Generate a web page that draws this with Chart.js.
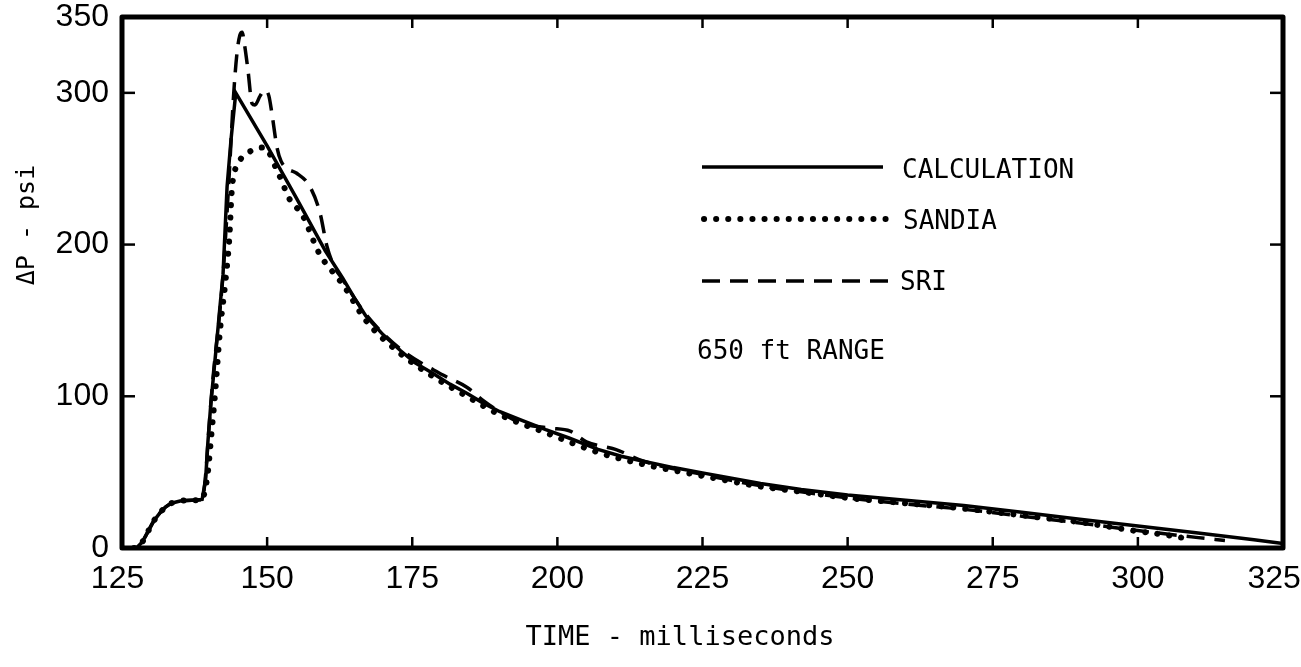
<!DOCTYPE html>
<html>
<head>
<meta charset="utf-8">
<script src="https://cdn.jsdelivr.net/npm/chart.js@4"></script>
<style>
html,body{margin:0;padding:0;background:#fff;}
#wrap{width:1301px;height:667px;position:relative;}
</style>
</head>
<body>
<div id="wrap"><canvas id="c" width="1301" height="667"></canvas></div>
<script>
// ---- data ----
const xTickValues = [125, 150, 175, 200, 225, 250, 275, 300, 325];
const yTickValues = [0, 100, 200, 300, 350];

const calcT = [125, 127.5, 128.5, 129.5, 130.5, 131.5, 132.5, 133.5, 135, 137, 138.8, 139.4, 139.8, 140.3, 140.8, 141.3, 141.9, 142.4, 143.1, 143.8, 144.6, 150, 155, 160, 163, 165, 167, 170, 173, 175.5, 178.6, 181.5, 184.4, 187, 190, 194, 198, 202, 207, 211, 215, 220, 225, 230, 235, 242, 250, 260, 270, 280, 290, 300, 310, 320, 325];
const calcP = [0, 0, 4, 11, 18, 23, 27, 29.5, 31, 31.5, 32, 45, 70, 95, 115, 135, 160, 180, 238, 270, 300, 265, 231, 196, 178, 165, 153, 140.5, 130, 122, 115, 108, 102, 96, 90, 84, 78, 72.5, 65, 60.5, 57, 53, 49.5, 46, 42.5, 38.5, 35, 31.5, 28, 23.5, 19, 14.5, 10, 5.5, 3];

const sandiaT = [125, 127.5, 128.5, 129.5, 130.5, 131.5, 132.5, 133.5, 135, 137, 138.8, 139.3, 139.8, 140.4, 141, 141.9, 142.8, 143.5, 143.9, 144.4, 145.2, 146.5, 148, 149.5, 151.7, 154, 156, 159, 161.3, 163, 167, 173, 178.6, 184.4, 190, 198, 207, 215, 225, 235, 242, 250, 260, 270, 280, 290, 300, 305, 308];
const sandiaP = [0, 0, 4, 11, 18, 23, 27, 29.5, 31, 31.5, 32, 38, 50, 75, 100, 144, 175, 205, 235, 248, 255, 260, 263, 264, 249, 229, 220, 194, 182, 174, 150, 128, 113, 100, 88, 76, 63, 55, 47.5, 40.5, 37, 33, 29.5, 26, 21.5, 17, 11, 8.5, 6.5];

const sriT = [125, 127.5, 128.5, 129.5, 130.5, 131.5, 132.5, 133.5, 135, 137, 138.8, 139.4, 139.9, 140.4, 141, 141.7, 142.4, 143, 143.6, 144.2, 144.8, 145.3, 145.7, 146.1, 146.7, 147.4, 147.9, 148.8, 149.6, 150.3, 150.8, 151.7, 152.4, 153.5, 155.1, 157.4, 159.1, 160.3, 161.5, 163, 167, 173, 180.3, 184.4, 187.3, 190, 194, 198.7, 202.2, 205, 210, 215, 225, 235, 242, 250, 260, 270, 280, 290, 300, 310, 315];
const sriP = [0, 0, 4, 11, 18, 23, 27, 29.5, 31, 31.5, 32, 48, 75, 100, 125, 150, 180, 215, 255, 297, 326, 338, 340, 332, 315, 293, 292, 298, 302, 298, 287, 264, 255, 250, 247, 238, 221, 199, 186, 177, 154, 131, 114, 106, 97, 90, 82, 79, 77, 70, 65, 57, 48.5, 41, 37, 33, 29, 25.5, 21, 16.5, 11.5, 7, 5];

const seriesNames = ['CALCULATION', 'SANDIA', 'SRI'];
const noteText = '650 ft RANGE';
const xTitle = 'TIME - milliseconds';
const yTitle = '\u0394P - psi';

function pts(t, p) { return t.map((v, i) => ({x: v, y: p[i]})); }

const MONO = '"DejaVu Sans Mono", "Liberation Mono", monospace';
const TICKFONT = '"Liberation Sans", Arial, sans-serif';

const styles = [
  {borderColor: '#000', borderWidth: 3.5, borderDash: [], borderCapStyle: 'butt', tension: 0, cubicInterpolationMode: 'default'},
  {borderColor: '#000', borderWidth: 6, borderDash: [0.1, 12], borderCapStyle: 'round', cubicInterpolationMode: 'monotone'},
  {borderColor: '#000', borderWidth: 3.5, borderDash: [18, 10], borderCapStyle: 'butt', cubicInterpolationMode: 'monotone'}
];

const decor = {
  id: 'decor',
  afterDatasetsDraw(chart) {
    const ctx = chart.ctx;
    const a = chart.chartArea;
    const xs = chart.scales.x, ys = chart.scales.y;
    ctx.save();
    // frame
    ctx.strokeStyle = '#000';
    ctx.lineWidth = 5;
    ctx.setLineDash([]);
    ctx.lineJoin = 'round';
    ctx.strokeRect(a.left, a.top, a.right - a.left, a.bottom - a.top);
    // inward ticks
    ctx.lineWidth = 2.5;
    xTickValues.slice(1, -1).forEach(v => {
      const px = xs.getPixelForValue(v);
      ctx.beginPath(); ctx.moveTo(px, a.bottom); ctx.lineTo(px, a.bottom - 11); ctx.stroke();
      ctx.beginPath(); ctx.moveTo(px, a.top); ctx.lineTo(px, a.top + 11); ctx.stroke();
    });
    [100, 200, 300].forEach(v => {
      const py = ys.getPixelForValue(v);
      ctx.beginPath(); ctx.moveTo(a.left, py); ctx.lineTo(a.left + 13, py); ctx.stroke();
      ctx.beginPath(); ctx.moveTo(a.right, py); ctx.lineTo(a.right - 13, py); ctx.stroke();
    });
    // legend
    const leg = [
      {x1: 702, x2: 883, y: 167, tx: 902, ty: 171},
      {x1: 704, x2: 887, y: 219, tx: 903, ty: 222},
      {x1: 702, x2: 890, y: 281, tx: 900, ty: 283}
    ];
    ctx.font = '26px ' + MONO;
    ctx.fillStyle = '#000';
    ctx.textBaseline = 'middle';
    ctx.textAlign = 'left';
    leg.forEach((l, i) => {
      const ds = chart.data.datasets[i];
      ctx.strokeStyle = ds.borderColor;
      ctx.lineWidth = ds.borderWidth;
      ctx.setLineDash(ds.borderDash);
      ctx.lineCap = ds.borderCapStyle;
      ctx.beginPath(); ctx.moveTo(l.x1, l.y); ctx.lineTo(l.x2, l.y); ctx.stroke();
      ctx.fillText(ds.label, l.tx, l.ty);
    });
    ctx.setLineDash([]);
    ctx.fillText(noteText, 697, 352);
    // axis titles
    ctx.textAlign = 'center';
    ctx.font = '27px ' + MONO;
    ctx.fillText(xTitle, 680, 638);
    ctx.translate(27, 225);
    ctx.rotate(-Math.PI / 2);
    ctx.font = '25px ' + MONO;
    ctx.fillText(yTitle, 0, 0);
    ctx.restore();
  }
};

new Chart(document.getElementById('c'), {
  type: 'line',
  data: {
    datasets: [
      Object.assign({label: seriesNames[0], data: pts(calcT, calcP)}, styles[0]),
      Object.assign({label: seriesNames[1], data: pts(sandiaT, sandiaP)}, styles[1]),
      Object.assign({label: seriesNames[2], data: pts(sriT, sriP)}, styles[2])
    ]
  },
  options: {
    responsive: false,
    animation: false,
    parsing: false,
    elements: {point: {radius: 0}, line: {fill: false}},
    layout: {padding: {left: 0, top: 17, right: 18, bottom: 0}},
    plugins: {legend: {display: false}, tooltip: {enabled: false}},
    scales: {
      x: {
        type: 'linear', min: 125, max: 325,
        afterFit(s) { s.height = 119; s.paddingLeft = 0; s.paddingRight = 0; },
        afterBuildTicks(s) { s.ticks = xTickValues.map(v => ({value: v})); },
        grid: {display: false, drawTicks: false},
        border: {display: false},
        ticks: {
          color: '#000', padding: 12, maxRotation: 0, autoSkip: false,
          font: {family: TICKFONT, size: 32},
          callback: (v) => v === 325 ? '325\u00a0\u00a0' : (v === 125 ? '125\u00a0' : String(v))
        }
      },
      y: {
        type: 'linear', min: 0, max: 350,
        afterFit(s) { s.width = 122; s.paddingTop = 0; s.paddingBottom = 0; },
        afterBuildTicks(s) { s.ticks = yTickValues.map(v => ({value: v})); },
        grid: {display: false, drawTicks: false},
        border: {display: false},
        ticks: {color: '#000', padding: 13, autoSkip: false, font: {family: TICKFONT, size: 32}}
      }
    }
  },
  plugins: [decor]
});
</script>
</body>
</html>
